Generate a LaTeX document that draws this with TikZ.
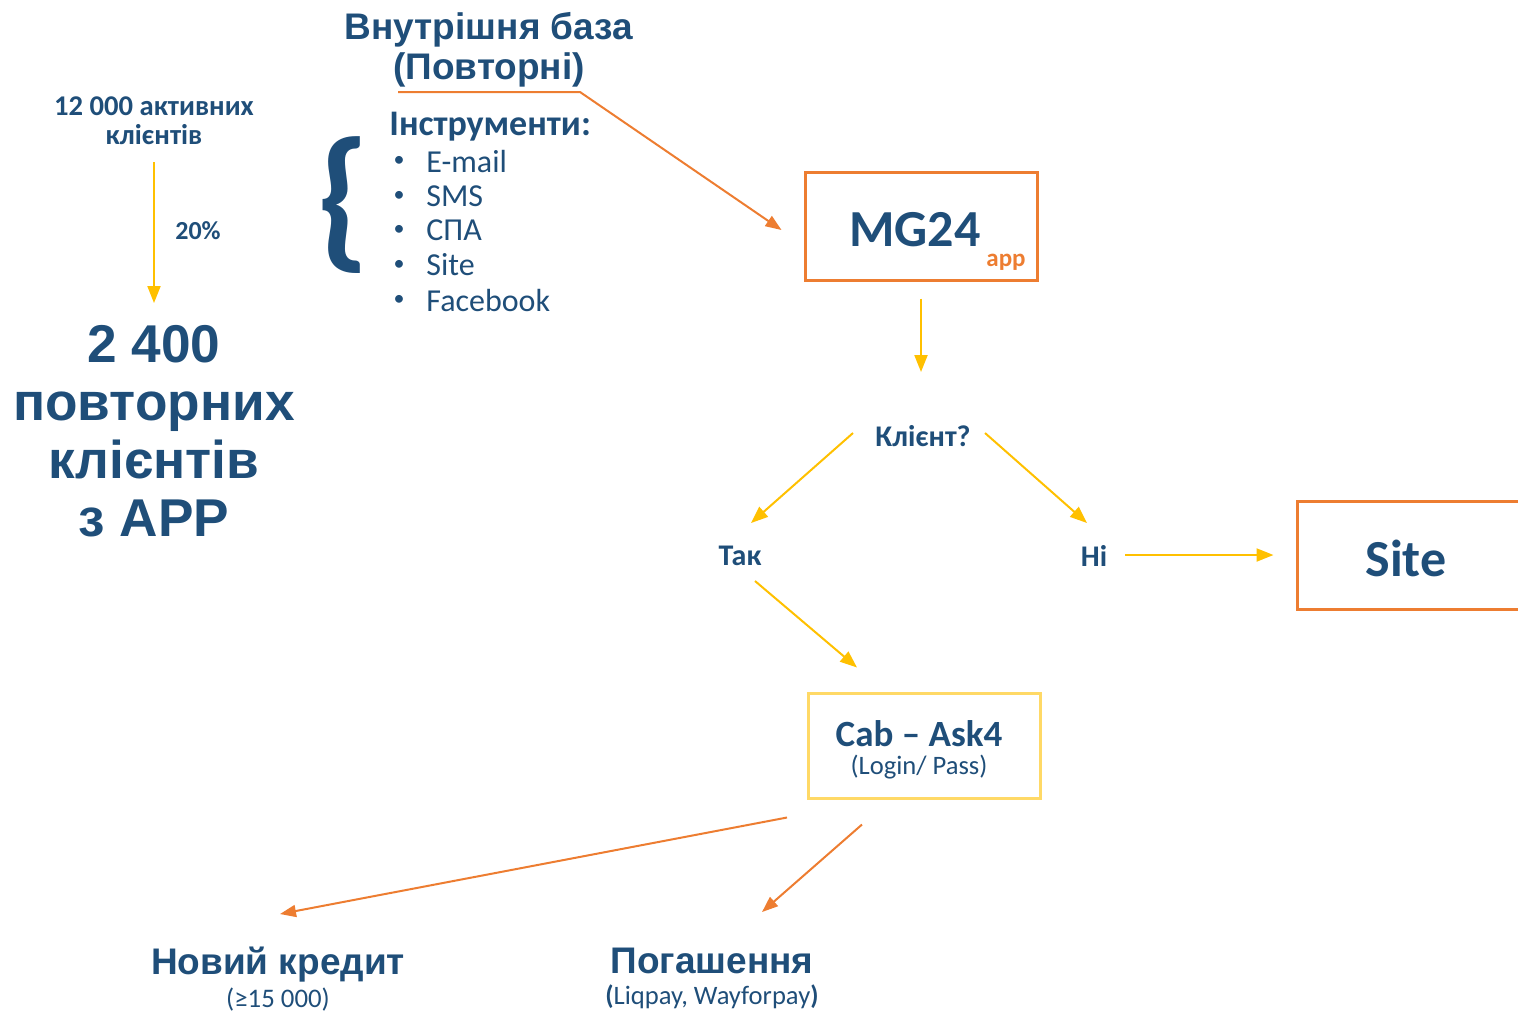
\documentclass[tikz,border=0pt]{standalone}
\usepackage{fontspec}
\setmainfont{Carlito}
\newfontfamily\arialfont{Liberation Sans}
\usetikzlibrary{arrows.meta,calc}
\definecolor{navy}{HTML}{1F4E79}
\definecolor{orangeline}{HTML}{ED7D31}
\definecolor{yellowline}{HTML}{FFC000}
\definecolor{paleyellow}{HTML}{FFD966}
\tikzstyle{flowbox}=[draw=orangeline,line width=1.5pt,minimum width=116pt,minimum height=54pt,inner sep=0pt]
\tikzstyle{txt}=[text=navy,inner sep=0pt,align=center]
\tikzstyle{yarrow} = [draw=yellowline,line width=1pt,-{Triangle[length=8.5pt,width=6.5pt]}]
\tikzstyle{oarrow} = [draw=orangeline,line width=1pt,-{Triangle[length=8pt,width=6pt]}]
\begin{document}
\begin{tikzpicture}[x=0.5pt,y=-0.5pt]
  \useasboundingbox (0,0) rectangle (1518,1014);
  \clip (0,0) rectangle (1518,1014);

% Left column
  \node[txt,font=\bfseries\fontsize{14.3pt}{14.5pt}\selectfont] (active) at (154,121) {12 000 активних\\клієнтів};
  \node[txt,font=\bfseries\fontsize{13pt}{14pt}\selectfont] (pct) at (198,231) {20\%};
  \node[txt,font=\arialfont\bfseries\fontsize{26.6pt}{29pt}\selectfont] (rep) at (154,431) {2 400\\повторних\\клієнтів\\з APP};
  \draw[yarrow] ($(active)+(0,41)$) -- ($(rep)+(0,-128)$);

% Base and tools
  \node[txt,font=\arialfont\bfseries\fontsize{18.5pt}{20pt}\selectfont] (base) at (489,50) {Внутрішня база\\(Повторні)};
  \node[txt,font=\bfseries\fontsize{78pt}{78pt}\selectfont] (brace) at (343,205) {\{};
  \node[txt,anchor=west,font=\bfseries\fontsize{18pt}{18pt}\selectfont] (tools) at (389,127) {Інструменти:};
  \foreach \y/\name/\item in {161/mail/E-mail, 196/sms/SMS, 230/spa/СПА, 265/web/Site, 300/fb/Facebook}
  {
    \node[txt,font=\fontsize{11pt}{12pt}\selectfont] (dot\name) at (399,\y) {\textbullet};
    \node[txt,anchor=west,font=\fontsize{16pt}{18pt}\selectfont] (\name) at (426,\y) {\item};
  }

% Boxes
  \node[flowbox] (mg) at (921,226) {};
  \node[txt,font=\bfseries\fontsize{26pt}{28pt}\selectfont] (mgtext) at ($(mg)+(-6,4)$) {MG24};
  \node[txt,text=orangeline,font=\bfseries\fontsize{12.5pt}{14pt}\selectfont] (app) at ($(mg)+(85,36)$) {app};
  \node[flowbox,minimum width=111pt] (site) at (1408,555) {};
  \node[txt,font=\bfseries\fontsize{26pt}{28pt}\selectfont] (sitetext) at ($(site)+(-2,3)$) {Site};
  \node[flowbox,draw=paleyellow,minimum height=52.5pt] (cab) at (924,745.5) {};
  \node[txt,font=\bfseries\fontsize{18.5pt}{20pt}\selectfont] (cabtext) at ($(cab)+(-5,-12)$) {Cab -- Ask4};
  \node[txt,font=\fontsize{13.3pt}{14pt}\selectfont] (login) at ($(cab)+(-5,22)$) {(Login/ Pass)};

% Decision
  \node[txt,font=\bfseries\fontsize{15pt}{16pt}\selectfont] (klient) at (923,436) {Клієнт?};
  \node[txt,font=\bfseries\fontsize{15pt}{16pt}\selectfont] (tak) at (740,556) {Так};
  \node[txt,font=\bfseries\fontsize{15pt}{16pt}\selectfont] (ni) at (1094,556) {Ні};

% Results
  \node[txt,font=\arialfont\bfseries\fontsize{18.5pt}{20pt}\selectfont] (novyi) at (278,965) {Новий кредит};
  \node[txt,font=\fontsize{13.4pt}{14pt}\selectfont] (limit) at (278,1000) {(≥15 000)};
  \node[txt,font=\arialfont\bfseries\fontsize{18.5pt}{20pt}\selectfont] (pog) at (712,961) {Погашення};
  \node[txt,font=\fontsize{13.3pt}{14pt}\selectfont] (pay) at (712,997) {\textbf{(}Liqpay, Wayforpay\textbf{)}};

% Connectors
  \draw[oarrow] ($(base)+(-91,42)$) -- ($(base)+(91,42)$) -- ($(mg.west)+(-22,4)$);
  \draw[yarrow] ($(mg.south)+(0,17)$) -- ($(klient)+(-2,-64)$);
  \draw[yarrow] ($(klient)+(-70,-3)$) -- ($(tak)+(11,-33)$);
  \draw[yarrow] ($(klient)+(62,-3)$) -- ($(ni)+(-7,-33)$);
  \draw[yarrow] ($(ni)+(31,-1)$) -- ($(site.west)+(-22,0)$);
  \draw[yarrow] ($(tak)+(15,25)$) -- ($(cab.north)+(-67,-24)$);
  \draw[oarrow] ($(cab.south)+(-137,18)$) -- ($(novyi)+(2,-51)$);
  \draw[oarrow] ($(cab.south)+(-62,25)$) -- ($(pog)+(50,-49)$);
\end{tikzpicture}
\end{document}
